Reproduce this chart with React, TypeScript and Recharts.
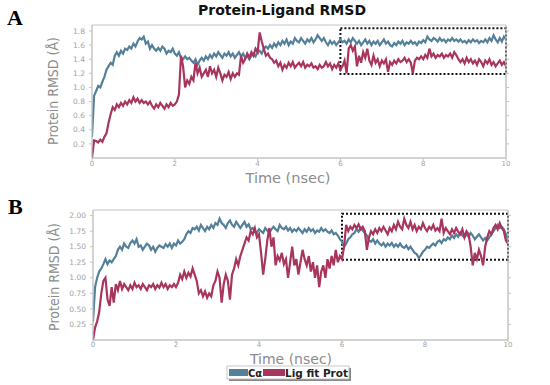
import React from 'react';
import { LineChart, Line, XAxis, YAxis, ReferenceArea } from 'recharts';

const TIME = [
  0, 0.05, 0.1, 0.15, 0.2, 0.25, 0.3, 0.35, 0.4, 0.45, 0.5, 0.55, 0.6, 0.65, 0.7, 0.75, 0.8, 0.85, 0.9, 0.95,
  1, 1.05, 1.1, 1.15, 1.2, 1.25, 1.3, 1.35, 1.4, 1.45, 1.5, 1.55, 1.6, 1.65, 1.7, 1.75, 1.8, 1.85, 1.9, 1.95,
  2, 2.05, 2.1, 2.15, 2.2, 2.25, 2.3, 2.35, 2.4, 2.45, 2.5, 2.55, 2.6, 2.65, 2.7, 2.75, 2.8, 2.85, 2.9, 2.95,
  3, 3.05, 3.1, 3.15, 3.2, 3.25, 3.3, 3.35, 3.4, 3.45, 3.5, 3.55, 3.6, 3.65, 3.7, 3.75, 3.8, 3.85, 3.9, 3.95,
  4, 4.05, 4.1, 4.15, 4.2, 4.25, 4.3, 4.35, 4.4, 4.45, 4.5, 4.55, 4.6, 4.65, 4.7, 4.75, 4.8, 4.85, 4.9, 4.95,
  5, 5.05, 5.1, 5.15, 5.2, 5.25, 5.3, 5.35, 5.4, 5.45, 5.5, 5.55, 5.6, 5.65, 5.7, 5.75, 5.8, 5.85, 5.9, 5.95,
  6, 6.05, 6.1, 6.15, 6.2, 6.25, 6.3, 6.35, 6.4, 6.45, 6.5, 6.55, 6.6, 6.65, 6.7, 6.75, 6.8, 6.85, 6.9, 6.95,
  7, 7.05, 7.1, 7.15, 7.2, 7.25, 7.3, 7.35, 7.4, 7.45, 7.5, 7.55, 7.6, 7.65, 7.7, 7.75, 7.8, 7.85, 7.9, 7.95,
  8, 8.05, 8.1, 8.15, 8.2, 8.25, 8.3, 8.35, 8.4, 8.45, 8.5, 8.55, 8.6, 8.65, 8.7, 8.75, 8.8, 8.85, 8.9, 8.95,
  9, 9.05, 9.1, 9.15, 9.2, 9.25, 9.3, 9.35, 9.4, 9.45, 9.5, 9.55, 9.6, 9.65, 9.7, 9.75, 9.8, 9.85, 9.9, 9.95,
  10,
];

// Panel A — C-alpha RMSD
const A_CA = [
  0.3, 0.88, 0.95, 1.02, 1.0, 1.08, 1.15, 1.25, 1.3, 1.35, 1.32, 1.45, 1.5, 1.45, 1.52, 1.48, 1.55, 1.53, 1.58, 1.55,
  1.62, 1.58, 1.65, 1.7, 1.68, 1.72, 1.62, 1.65, 1.55, 1.6, 1.55, 1.52, 1.56, 1.52, 1.58, 1.55, 1.48, 1.52, 1.5, 1.55,
  1.48, 1.45, 1.5, 1.42, 1.4, 1.44, 1.4, 1.42, 1.38, 1.35, 1.4, 1.32, 1.38, 1.42, 1.38, 1.44, 1.4, 1.46, 1.42, 1.48,
  1.44, 1.5, 1.46, 1.42, 1.48, 1.45, 1.5, 1.44, 1.48, 1.42, 1.46, 1.5, 1.44, 1.48, 1.42, 1.45, 1.4, 1.45, 1.48, 1.44,
  1.5, 1.52, 1.48, 1.55, 1.58, 1.55, 1.6, 1.56, 1.62, 1.58, 1.64, 1.6, 1.66, 1.62, 1.68, 1.6, 1.65, 1.62, 1.7, 1.66,
  1.64, 1.7, 1.66, 1.62, 1.68, 1.65, 1.7, 1.64, 1.68, 1.74, 1.7, 1.66, 1.7, 1.64, 1.6, 1.66, 1.62, 1.65, 1.6, 1.64,
  1.68, 1.64, 1.66, 1.62, 1.68, 1.64, 1.7, 1.66, 1.62, 1.66, 1.6, 1.64, 1.68, 1.62, 1.66, 1.6, 1.65, 1.62, 1.66, 1.6,
  1.64, 1.68, 1.62, 1.65, 1.6, 1.58, 1.63, 1.6, 1.65, 1.62, 1.66, 1.6, 1.64, 1.62, 1.66, 1.62, 1.64, 1.6, 1.65, 1.63,
  1.67, 1.64, 1.72, 1.68, 1.66, 1.7, 1.68, 1.65, 1.7, 1.66, 1.68, 1.64, 1.68, 1.66, 1.7, 1.66, 1.68, 1.65, 1.68, 1.64,
  1.66, 1.63, 1.67, 1.64, 1.68, 1.65, 1.67, 1.63, 1.66, 1.64, 1.68, 1.64, 1.7, 1.66, 1.74, 1.68, 1.64, 1.7, 1.65, 1.72,
  1.68,
];

// Panel A — Ligand fit on protein RMSD
const A_LIG = [
  0.0, 0.25, 0.24, 0.22, 0.26, 0.23, 0.3, 0.35, 0.5, 0.62, 0.72, 0.68, 0.76, 0.72, 0.78, 0.74, 0.8, 0.76, 0.82, 0.78,
  0.86, 0.8, 0.84, 0.78, 0.82, 0.78, 0.8, 0.76, 0.8, 0.74, 0.7, 0.76, 0.72, 0.78, 0.74, 0.7, 0.76, 0.72, 0.78, 0.74,
  0.76, 0.8, 0.9, 1.45, 1.3, 1.0, 1.1, 1.05, 1.15, 1.1, 1.35, 1.2, 1.28, 1.15, 1.2, 1.25, 1.15, 1.3, 1.2, 1.25,
  1.15, 1.28, 1.2, 1.1, 1.18, 1.15, 1.22, 1.12, 1.2, 1.15, 1.2, 1.18, 1.45, 1.35, 1.4, 1.48, 1.42, 1.5, 1.45, 1.55,
  1.5, 1.78, 1.65, 1.55, 1.45, 1.48, 1.42, 1.4, 1.35, 1.38, 1.3, 1.35, 1.25, 1.32, 1.28, 1.35, 1.3, 1.36, 1.28, 1.32,
  1.35, 1.3, 1.36, 1.28, 1.32, 1.3, 1.34, 1.28, 1.3, 1.26, 1.32, 1.28, 1.3, 1.36, 1.3, 1.34, 1.26, 1.32, 1.28, 1.34,
  1.25, 1.3, 1.38, 1.2, 1.55, 1.6, 1.52, 1.58, 1.3, 1.45, 1.35, 1.5, 1.42, 1.55, 1.38, 1.32, 1.45, 1.35, 1.4, 1.3,
  1.38, 1.34, 1.4, 1.22, 1.36, 1.32, 1.38, 1.34, 1.4, 1.36, 1.38, 1.42, 1.36, 1.4, 1.35, 1.2, 1.38, 1.42, 1.4, 1.44,
  1.4, 1.46, 1.42, 1.55, 1.44, 1.48, 1.42, 1.46, 1.44, 1.48, 1.42, 1.46, 1.44, 1.48, 1.42, 1.5, 1.46, 1.4, 1.36, 1.4,
  1.34, 1.42, 1.36, 1.4, 1.34, 1.38, 1.32, 1.4, 1.36, 1.3, 1.38, 1.34, 1.4, 1.32, 1.36, 1.3, 1.34, 1.38, 1.32, 1.36,
  1.3,
];

// Panel B — C-alpha RMSD
const B_CA = [
  0.3, 0.85, 1.0, 1.1, 1.15, 1.22, 1.3, 1.22, 1.28, 1.25, 1.3, 1.35, 1.45, 1.5, 1.45, 1.55, 1.5, 1.48, 1.56, 1.6,
  1.55, 1.62, 1.5, 1.52, 1.45, 1.5, 1.55, 1.52, 1.45, 1.5, 1.42, 1.48, 1.52, 1.5, 1.48, 1.54, 1.5, 1.55, 1.48, 1.55,
  1.52, 1.6, 1.55, 1.58, 1.62, 1.7, 1.75, 1.72, 1.8, 1.78, 1.82, 1.76, 1.85, 1.8, 1.75, 1.82, 1.78, 1.85, 1.8, 1.88,
  1.85, 1.95, 1.88, 1.85, 1.8, 1.88, 1.92, 1.85, 1.82, 1.9, 1.85, 1.8, 1.85, 1.9, 1.82, 1.86, 1.78, 1.8, 1.75, 1.72,
  1.78, 1.75, 1.72, 1.8, 1.76, 1.72, 1.78, 1.82, 1.78, 1.75, 1.85, 1.8, 1.78, 1.82, 1.76, 1.8, 1.74, 1.78, 1.75, 1.8,
  1.76, 1.72, 1.78, 1.74, 1.8, 1.75, 1.78, 1.72, 1.76, 1.74, 1.8, 1.75, 1.78, 1.74, 1.72, 1.76, 1.7, 1.72, 1.68, 1.62,
  1.58, 1.5, 1.55, 1.62, 1.65, 1.7, 1.72, 1.78, 1.74, 1.8, 1.76, 1.72, 1.68, 1.6, 1.58, 1.62, 1.55, 1.6, 1.55, 1.52,
  1.56, 1.5, 1.55, 1.52, 1.56, 1.5, 1.54, 1.5, 1.55, 1.5, 1.48, 1.52, 1.46, 1.5, 1.45, 1.4, 1.38, 1.32, 1.36, 1.42,
  1.45, 1.5, 1.48, 1.52, 1.55, 1.52, 1.58, 1.6, 1.56, 1.62, 1.6, 1.65, 1.62, 1.68, 1.64, 1.7, 1.66, 1.72, 1.68, 1.65,
  1.7, 1.66, 1.72, 1.68, 1.62, 1.66, 1.7, 1.65, 1.6, 1.64, 1.6, 1.65, 1.7, 1.75, 1.8, 1.85, 1.8, 1.82, 1.78, 1.7,
  1.6,
];

// Panel B — Ligand fit on protein RMSD
const B_LIG = [
  0.0, 0.2, 0.3, 0.45, 0.75, 0.95, 1.0, 0.65, 0.55, 0.85, 0.6, 0.9, 0.8, 0.95, 0.82, 0.9, 0.85, 0.8, 0.88, 0.82,
  0.92, 0.85, 0.88, 0.82, 0.9, 0.85, 0.8, 0.88, 0.85, 0.9, 0.82, 0.88, 0.84, 0.92, 0.85, 0.9, 0.82, 0.88, 0.85, 0.9,
  0.85, 0.92, 1.05, 0.98, 1.1, 1.0, 1.08, 1.02, 1.15, 1.05, 0.95, 0.75, 0.8, 0.7, 0.78, 0.68, 0.75, 0.7, 0.88, 0.95,
  1.1, 1.0, 0.6, 0.9, 1.05, 0.95, 0.65, 1.05, 1.15, 1.3, 1.2, 1.35, 1.45, 1.55, 1.65, 1.6, 1.75, 1.7, 1.8, 1.65,
  1.7, 1.4, 1.05, 1.3, 1.6, 1.8, 1.5, 1.65, 1.2, 1.35, 1.28, 1.4, 1.22, 1.3, 1.0, 1.25, 1.5, 1.2, 1.3, 1.05,
  1.25, 1.45, 1.3, 1.2, 1.35, 1.1, 1.25, 1.0, 1.2, 0.85, 1.1, 1.2, 1.0, 1.3, 1.15, 1.35, 1.2, 1.45, 1.25, 1.35,
  1.3, 1.5, 1.85, 1.75, 1.82, 1.78, 1.85, 1.8, 1.86, 1.78, 1.82, 1.75, 1.45, 1.65, 1.75, 1.7, 1.78, 1.72, 1.8, 1.75,
  1.82, 1.76, 1.7, 1.8, 1.75, 1.85, 1.78, 1.9, 1.82, 1.78, 1.95, 1.85, 1.8, 1.9, 1.78, 1.85, 1.75, 1.82, 1.78, 1.88,
  1.8, 1.75, 1.82, 1.78, 1.85, 1.76, 1.8, 1.75, 1.95, 1.72, 1.8, 1.75, 1.7, 1.78, 1.72, 1.8, 1.74, 1.7, 1.78, 1.65,
  1.75, 1.7, 1.5, 1.2, 1.4, 1.3, 1.45, 1.35, 1.2, 1.5, 1.65, 1.75, 1.7, 1.8, 1.85, 1.78, 1.88, 1.8, 1.75, 1.6,
  1.55,
];

const X_TICKS = [0, 2, 4, 6, 8, 10];
const A_Y_TICKS = [0.2, 0.4, 0.6, 0.8, 1.0, 1.2, 1.4, 1.6, 1.8];
const B_Y_TICKS = [0.25, 0.5, 0.75, 1.0, 1.25, 1.5, 1.75, 2.0];
const A_DOMAIN = [0, 1.885];
const B_DOMAIN = [0, 2.09];
const A_BOX = [1.19, 1.84];
const B_BOX = [1.29, 2.03];

const SERIES_NAMES = ['Cα', 'Lig fit Prot'];
const TITLE = 'Protein-Ligand RMSD';
const Y_LABEL = 'Protein RMSD (Å)';
const X_LABEL = 'Time (nsec)';

const BLUE = '#55809a';
const RED = '#a8355d';
const FRAME = '#c4c4c4';
const TICK = '#a2a2a2';

function build(ca: number[], lig: number[]) {
  return TIME.map((t, i) => ({ t, ca: ca[i], lig: lig[i] }));
}

type PanelProps = {
  data: any[];
  top: number;
  height: number;
  margin: any;
  domain: number[];
  yTicks: number[];
  digits: number;
  box: number[];
  xTickSize: number;
};

function Panel({ data, top, height, margin, domain, yTicks, digits, box, xTickSize }: PanelProps) {
  const tickStyle = { fill: TICK, fontSize: 7, fontFamily: 'DejaVu Sans' };
  return (
    <div style={{ position: 'absolute', left: 0, top, width: 550, height }}>
      <LineChart width={550} height={height} data={data} margin={margin}>
        <XAxis
          dataKey="t"
          type="number"
          domain={[0, 10]}
          ticks={X_TICKS}
          interval={0}
          height={12}
          tickSize={xTickSize}
          tickMargin={0}
          allowDataOverflow
          axisLine={{ stroke: FRAME }}
          tickLine={{ stroke: FRAME }}
          tick={tickStyle}
        />
        <YAxis
          type="number"
          domain={domain}
          ticks={yTicks}
          interval={0}
          width={40}
          tickSize={3}
          tickMargin={4}
          allowDataOverflow
          tickFormatter={(v: number) => v.toFixed(digits)}
          axisLine={{ stroke: FRAME }}
          tickLine={{ stroke: FRAME }}
          tick={{ ...tickStyle, fontSize: 7.5 }}
        />
        <YAxis
          yAxisId="r"
          orientation="right"
          type="number"
          domain={domain}
          ticks={yTicks}
          interval={0}
          width={6}
          tickSize={3}
          tickMargin={0}
          allowDataOverflow
          tickFormatter={() => ''}
          axisLine={{ stroke: FRAME }}
          tickLine={{ stroke: FRAME }}
        />
        <ReferenceArea x1={0} x2={10} y1={domain[0]} y2={domain[1]} fill="none" stroke={FRAME} />
        <Line
          dataKey="ca"
          name={SERIES_NAMES[0]}
          stroke={BLUE}
          strokeWidth={2.2}
          dot={false}
          isAnimationActive={false}
        />
        <Line
          dataKey="lig"
          name={SERIES_NAMES[1]}
          stroke={RED}
          strokeWidth={2.2}
          dot={false}
          isAnimationActive={false}
        />
        <ReferenceArea
          x1={6}
          x2={10}
          y1={box[0]}
          y2={box[1]}
          fill="none"
          fillOpacity={0}
          stroke="#111"
          strokeWidth={2}
          strokeDasharray="2 2"
        />
      </LineChart>
    </div>
  );
}

export default function App() {
  const dataA = build(A_CA, A_LIG);
  const dataB = build(B_CA, B_LIG);
  const labelFont = "'Liberation Sans Narrow', 'DejaVu Sans Condensed', sans-serif";
  return (
    <div style={{ position: 'absolute', left: 0, top: 0, width: 550, height: 385, background: '#fff', overflow: 'hidden' }}>
      <Panel
        data={dataA}
        top={0}
        height={185}
        margin={{ top: 25, right: 38, left: 52, bottom: 15 }}
        domain={A_DOMAIN}
        yTicks={A_Y_TICKS}
        digits={1}
        box={A_BOX}
        xTickSize={3}
      />
      <Panel
        data={dataB}
        top={190}
        height={195}
        margin={{ top: 20, right: 36, left: 53, bottom: 33 }}
        domain={B_DOMAIN}
        yTicks={B_Y_TICKS}
        digits={2}
        box={B_BOX}
        xTickSize={2}
      />
      <svg
        width={550}
        height={385}
        style={{ position: 'absolute', left: 0, top: 0, pointerEvents: 'none' }}
      >
        <text x={7} y={25} fontFamily="'Liberation Serif', serif" fontWeight="bold" fontSize={22} fill="#000">A</text>
        <text x={8} y={214} fontFamily="'Liberation Serif', serif" fontWeight="bold" fontSize={22} fill="#000">B</text>
        <text x={282} y={15} textAnchor="middle" fontFamily="'DejaVu Sans', sans-serif" fontWeight="bold" fontSize={14} fill="#111">
          {TITLE}
        </text>
        <text x={288} y={183} textAnchor="middle" fontFamily="'DejaVu Sans', sans-serif" fontSize={14.5} fill="#8c8c8c">
          {X_LABEL}
        </text>
        <text x={291} y={364} textAnchor="middle" fontFamily="'DejaVu Sans', sans-serif" fontSize={14} fill="#8c8c8c">
          {X_LABEL}
        </text>
        <text
          x={53}
          y={91}
          transform="rotate(-90 53 91)"
          textAnchor="middle"
          dominantBaseline="central"
          fontFamily={labelFont}
          fontSize={14}
          fill="#8c8c8c"
        >
          {Y_LABEL}
        </text>
        <text
          x={54}
          y={277}
          transform="rotate(-90 54 277)"
          textAnchor="middle"
          dominantBaseline="central"
          fontFamily={labelFont}
          fontSize={14}
          fill="#8c8c8c"
        >
          {Y_LABEL}
        </text>
        {/* legend */}
        <rect x={229} y={368} width={122} height={13} fill="#888" />
        <rect x={227} y={366} width={122} height={13} fill="#fff" stroke="#bbb" strokeWidth={0.8} />
        <rect x={229} y={369} width={19} height={7} fill={BLUE} />
        <text x={248} y={377} fontFamily="'DejaVu Sans', sans-serif" fontWeight="bold" fontSize={10} fill="#222">{SERIES_NAMES[0]}</text>
        <rect x={263} y={369} width={22} height={7} fill={RED} />
        <text x={285} y={377} fontFamily="'DejaVu Sans', sans-serif" fontWeight="bold" fontSize={10.5} fill="#222">{SERIES_NAMES[1]}</text>
      </svg>
    </div>
  );
}
